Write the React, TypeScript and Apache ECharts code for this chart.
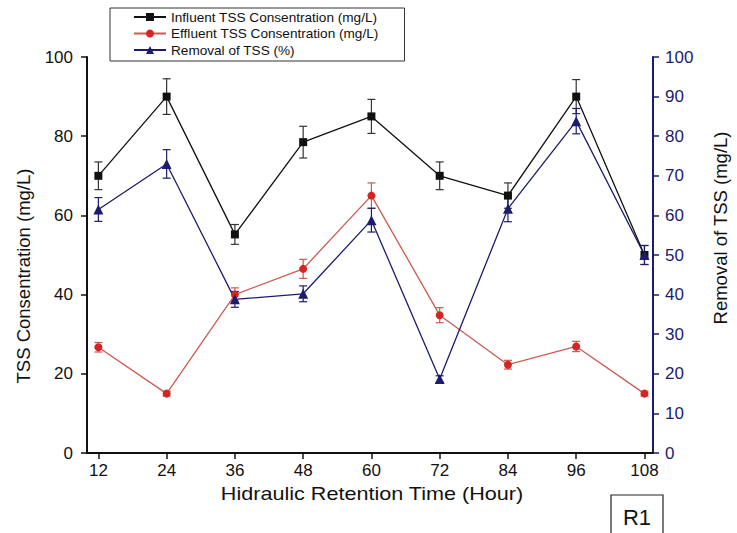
import React, { useEffect, useRef } from "react";
import * as echarts from "echarts";

const hours = [12, 24, 36, 48, 60, 72, 84, 96, 108];
const influent = [70, 90, 55.2, 78.5, 85, 70, 65, 90, 50];
const influentErr = [3.5, 4.5, 2.5, 4, 4.3, 3.5, 3.2, 4.3, 2.4];
const effluent = [26.7, 15, 40, 46.5, 65, 34.8, 22.3, 26.9, 15];
const effluentErr = [1.2, 0.6, 1.7, 2.4, 3.2, 1.9, 1.1, 1.3, 0.6];
const removal = [61.5, 73, 38.8, 40.2, 58.8, 18.7, 61.7, 83.8, 50];
const removalErr = [3, 3.6, 2, 2, 3, 0.8, 3.3, 3.2, 2.4];
const leftTicks = [0, 20, 40, 60, 80, 100];
const rightTicks = [0, 10, 20, 30, 40, 50, 60, 70, 80, 90, 100];

const FONT = "Liberation Sans, Arial, Helvetica, sans-serif";
const BLACK = "#111111";
const RED_LINE = "#cc5a52";
const RED = "#d42525";
const NAVY = "#1c1c6e";

function errSeries(name: string, vals: number[], errs: number[], color: string, yAxisIndex: number) {
  return {
    name: name + "_err",
    type: "custom",
    yAxisIndex,
    silent: true,
    z: 1,
    data: hours.map((h, i) => [h, vals[i] - errs[i], vals[i] + errs[i]]),
    renderItem: (params: any, api: any) => {
      const x = api.value(0);
      const lo = api.coord([x, api.value(1)]);
      const hi = api.coord([x, api.value(2)]);
      const w = 4;
      const style = { stroke: color, lineWidth: 1.2, fill: "none" };
      return {
        type: "group",
        children: [
          { type: "line", shape: { x1: lo[0], y1: lo[1], x2: hi[0], y2: hi[1] }, style },
          { type: "line", shape: { x1: lo[0] - w, y1: lo[1], x2: lo[0] + w, y2: lo[1] }, style },
          { type: "line", shape: { x1: hi[0] - w, y1: hi[1], x2: hi[0] + w, y2: hi[1] }, style },
        ],
      };
    },
  };
}

export default function App() {
  const ref = useRef<HTMLDivElement>(null);
  useEffect(() => {
    if (!ref.current) return;
    const chart = echarts.init(ref.current, null, { renderer: "svg" });
    const option: any = {
      animation: false,
      backgroundColor: "#ffffff",
      textStyle: { fontFamily: FONT },
      grid: { left: 87, right: 84, top: 57, bottom: 80, containLabel: false },
      legend: {
        orient: "vertical",
        left: 110,
        top: 8,
        padding: [2, 26, 4, 23],
        itemGap: 2.5,
        itemWidth: 32,
        itemHeight: 10,
        borderColor: "#333333",
        borderWidth: 1,
        textStyle: { fontFamily: FONT, fontSize: 13.6, color: "#111111" },
        data: [
          "Influent TSS Consentration (mg/L)",
          "Effluent TSS Consentration (mg/L)",
          "Removal of TSS (%)",
        ],
      },
      xAxis: {
        type: "value",
        min: 10,
        max: 109.5,
        splitLine: { show: false },
        axisLine: { show: true, lineStyle: { color: BLACK, width: 2 } },
        axisTick: { show: true, length: 6, customValues: hours, lineStyle: { color: BLACK, width: 1.5 } },
        axisLabel: { customValues: hours, fontSize: 17, color: "#111111", margin: 9, fontFamily: FONT },
      },
      yAxis: [
        {
          type: "value",
          min: 0,
          max: 100,
          interval: 20,
          position: "left",
          splitLine: { show: false },
          axisLine: { show: true, lineStyle: { color: BLACK, width: 2 } },
          axisTick: { show: true, length: 6, customValues: leftTicks, lineStyle: { color: BLACK, width: 1.5 } },
          axisLabel: { customValues: leftTicks, fontSize: 17, color: "#111111", margin: 14, fontFamily: FONT },
        },
        {
          type: "value",
          min: 0,
          max: 100,
          interval: 10,
          position: "right",
          splitLine: { show: false },
          axisLine: { show: true, lineStyle: { color: NAVY, width: 2 } },
          axisTick: { show: true, length: 6, customValues: rightTicks, lineStyle: { color: NAVY, width: 1.5 } },
          axisLabel: { customValues: rightTicks, fontSize: 17, color: NAVY, margin: 12, fontFamily: FONT },
        },
      ],
      series: [
        errSeries("inf", influent, influentErr, "#333333", 0),
        errSeries("eff", effluent, effluentErr, RED_LINE, 0),
        errSeries("rem", removal, removalErr, NAVY, 1),
        {
          name: "Influent TSS Consentration (mg/L)",
          type: "line",
          yAxisIndex: 0,
          data: hours.map((h, i) => [h, influent[i]]),
          symbol: "rect",
          symbolSize: 8,
          z: 3,
          lineStyle: { color: BLACK, width: 1.3 },
          itemStyle: { color: BLACK },
        },
        {
          name: "Effluent TSS Consentration (mg/L)",
          type: "line",
          yAxisIndex: 0,
          data: hours.map((h, i) => [h, effluent[i]]),
          symbol: "circle",
          symbolSize: 8,
          z: 3,
          lineStyle: { color: RED_LINE, width: 1.3 },
          itemStyle: { color: RED },
        },
        {
          name: "Removal of TSS (%)",
          type: "line",
          yAxisIndex: 1,
          data: hours.map((h, i) => [h, removal[i]]),
          symbol: "triangle",
          symbolSize: 10,
          z: 3,
          lineStyle: { color: NAVY, width: 1.3 },
          itemStyle: { color: NAVY },
        },
      ],
      graphic: [
        {
          type: "text",
          x: 23,
          y: 276,
          rotation: Math.PI / 2,
          style: {
            text: "TSS Consentration (mg/L)",
            fontSize: 18.5,
            fontFamily: FONT,
            fill: "#111111",
            align: "center",
            verticalAlign: "middle",
          },
        },
        {
          type: "text",
          x: 720,
          y: 228,
          rotation: Math.PI / 2,
          style: {
            text: "Removal of TSS (mg/L)",
            fontSize: 18.5,
            fontFamily: FONT,
            fill: "#111111",
            align: "center",
            verticalAlign: "middle",
          },
        },
        {
          type: "text",
          x: 372,
          y: 494,
          scaleX: 1.2,
          style: {
            text: "Hidraulic Retention Time (Hour)",
            fontSize: 18,
            fontFamily: FONT,
            fill: "#111111",
            align: "center",
            verticalAlign: "middle",
          },
        },
        {
          type: "rect",
          shape: { x: 611, y: 495, width: 52, height: 45 },
          style: { fill: "none", stroke: "#222222", lineWidth: 1.2 },
        },
        {
          type: "text",
          x: 637,
          y: 517,
          style: {
            text: "R1",
            fontSize: 22,
            fontFamily: FONT,
            fill: "#111111",
            align: "center",
            verticalAlign: "middle",
          },
        },
      ],
    };
    chart.setOption(option);
    return () => chart.dispose();
  }, []);
  return (
    <div
      ref={ref}
      style={{ position: "fixed", left: 0, top: 0, width: 737, height: 533 }}
    />
  );
}
